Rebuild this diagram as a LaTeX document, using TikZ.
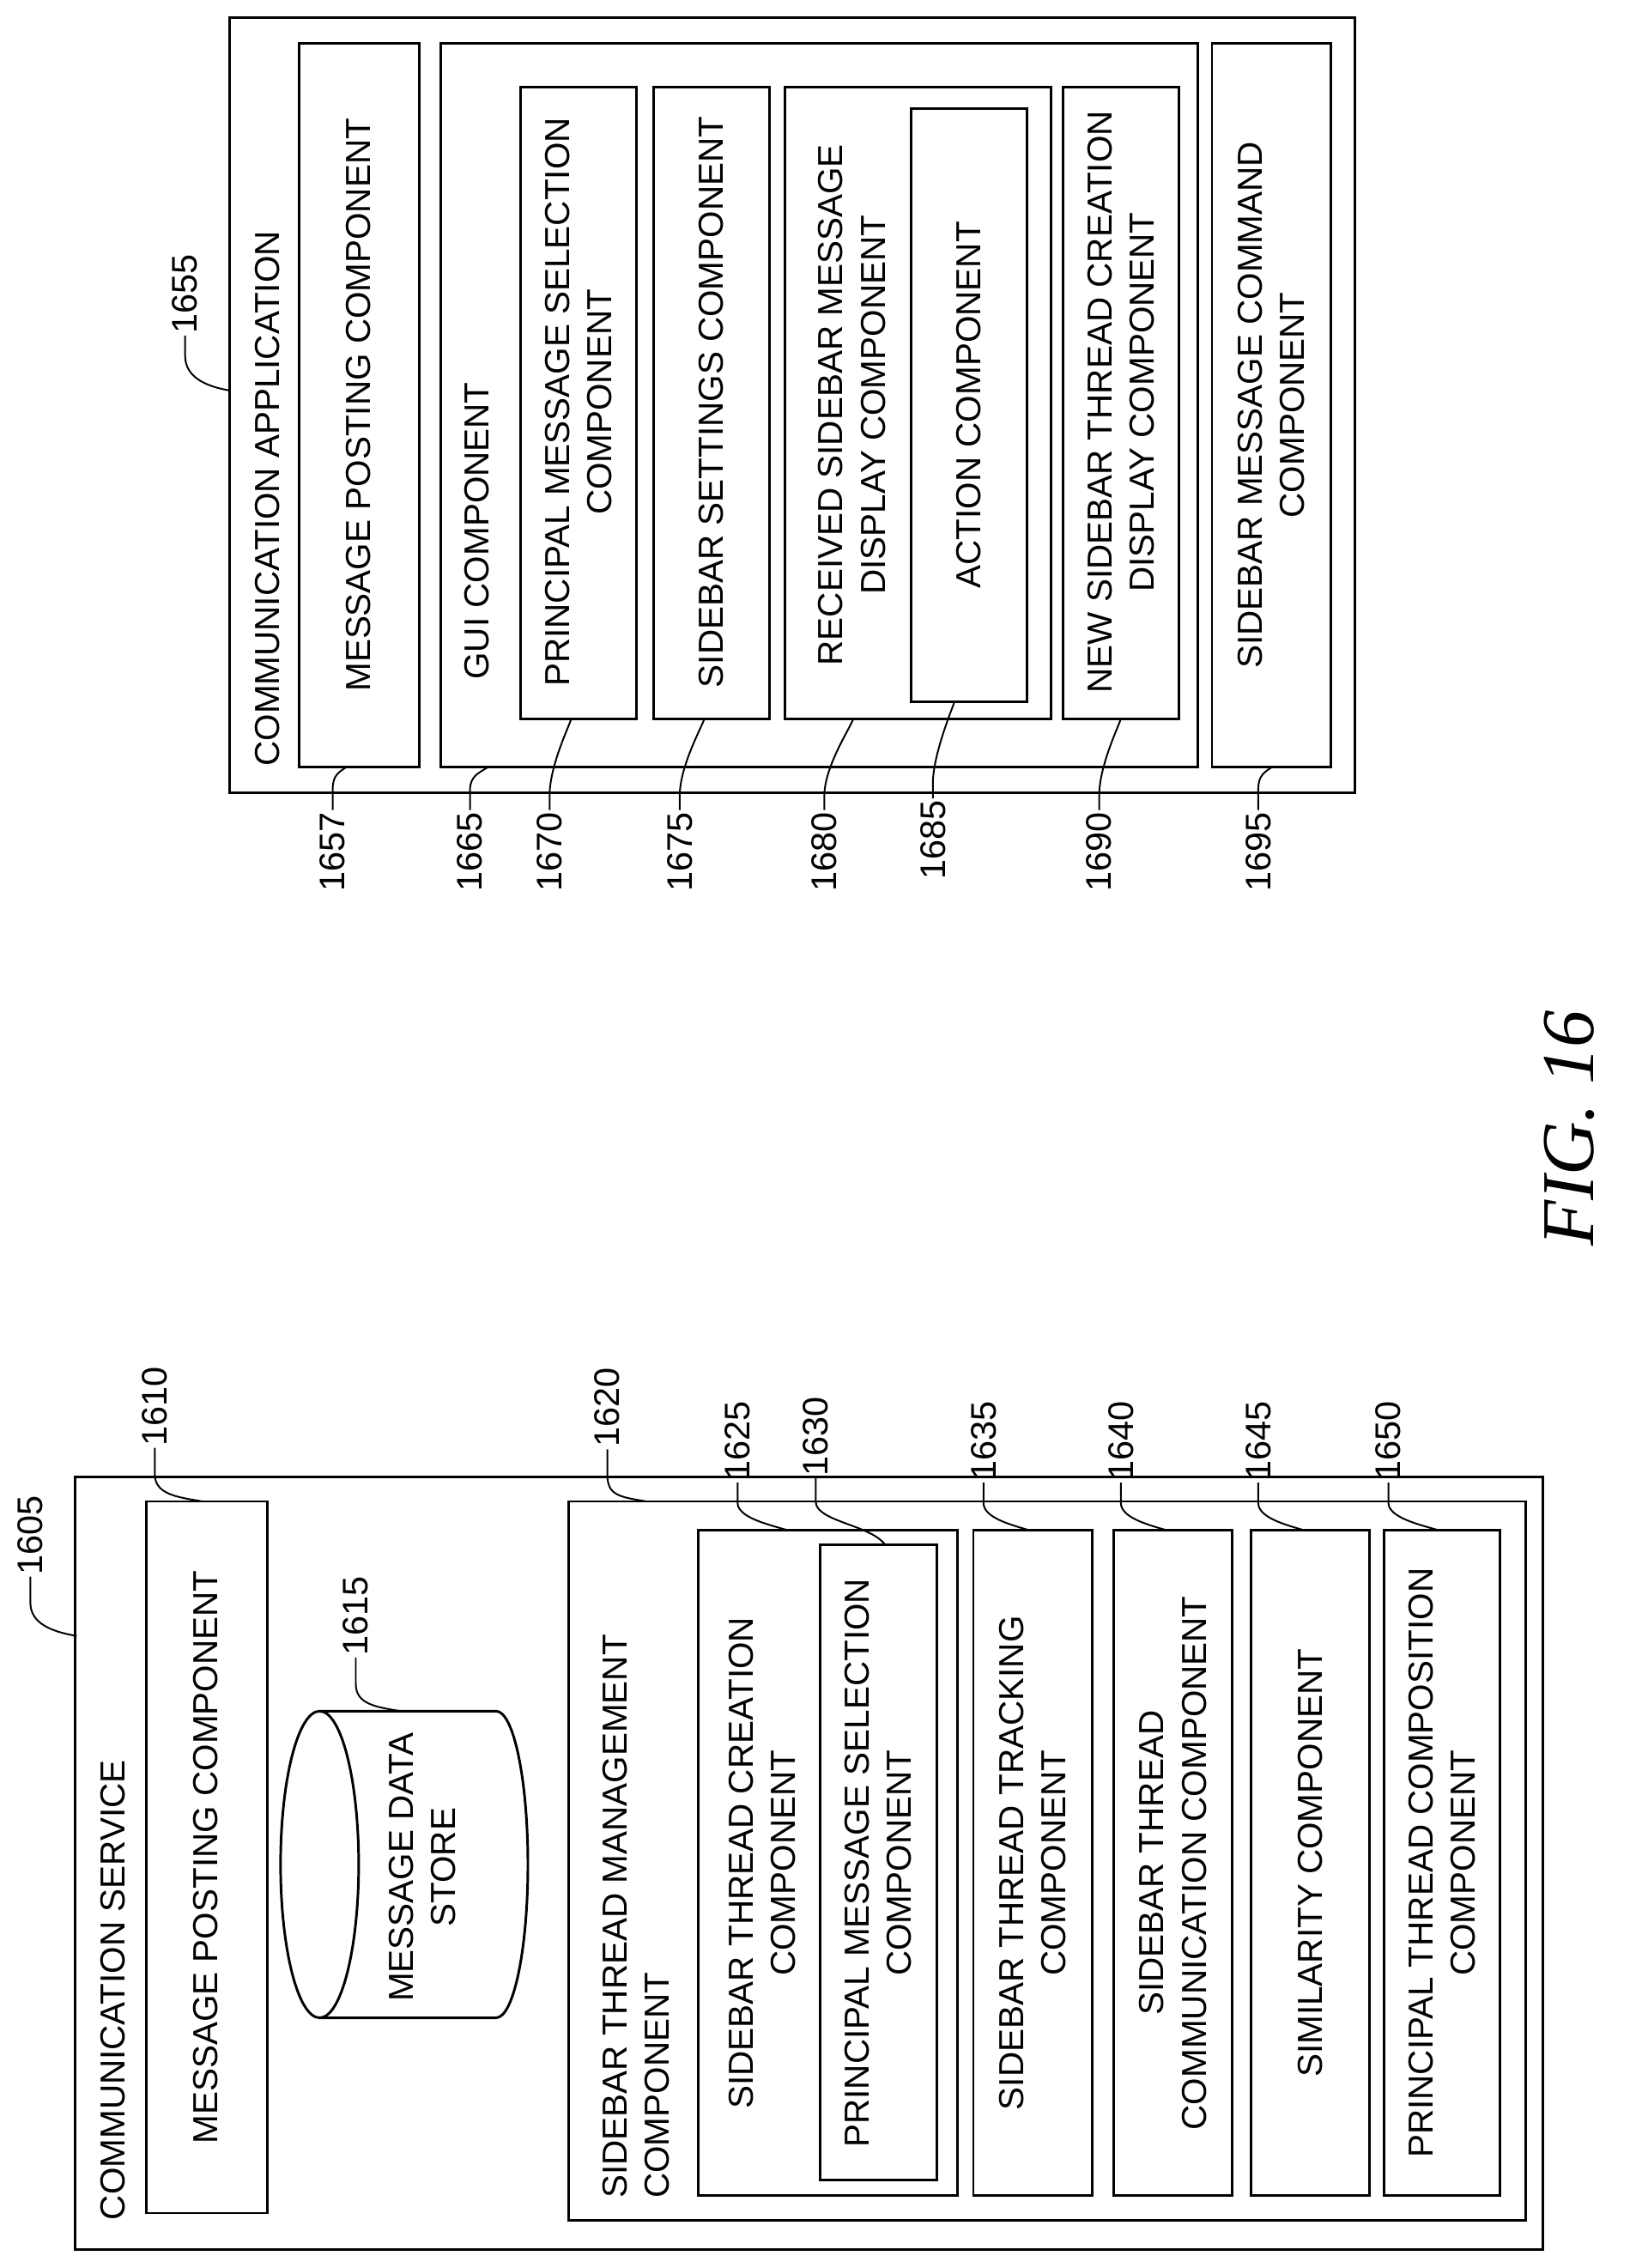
\documentclass[tikz,border=0pt]{standalone}
\usepackage{fontspec}
\setmainfont{Liberation Sans}
\newfontfamily\figfont{Liberation Serif}
\usetikzlibrary{fit,shapes.geometric}
\begin{document}
\begin{tikzpicture}[x=0.03cm,y=-0.03cm,
  boxs/.style={draw,line width=1.5pt,inner sep=0pt},
  txt/.style={rotate=90,font=\fontsize{20.5}{25}\selectfont,align=center,inner sep=0pt},
  lbl/.style={rotate=90,font=\fontsize{21}{23}\selectfont,inner sep=1pt},
  lead/.style={line width=1pt}]
\useasboundingbox (0,0) rectangle (1131,1568);
\newcommand{\mybox}[5]{\path (#2,#3) coordinate (#1-a) (#4,#5) coordinate (#1-b); \node[boxs,fit=(#1-a)(#1-b)] (#1) {};}
% ---------- left: communication service ----------
\mybox{b1605}{52}{1021}{1067}{1555}
\mybox{b1610}{101}{1038}{185}{1530}
\mybox{b1620}{393}{1038}{1055}{1535}
\mybox{b1625}{483}{1058}{662}{1518}
\mybox{b1630}{567}{1068}{648}{1507}
\mybox{b1635}{673}{1058}{755}{1518}
\mybox{b1640}{770}{1058}{852}{1518}
\mybox{b1645}{865}{1058}{947}{1518}
\mybox{b1650}{957}{1058}{1037}{1518}
\node[txt,anchor=west] (t1605) at (78,1535) {COMMUNICATION SERVICE};
\node[txt] at (142,1284) {MESSAGE POSTING COMPONENT};
\node[txt,anchor=west,align=left] (t1620) at (440,1520) {SIDEBAR THREAD MANAGEMENT\\COMPONENT};
\node[txt] at (527,1288) {SIDEBAR THREAD CREATION\\COMPONENT};
\node[txt] at (607,1288) {PRINCIPAL MESSAGE SELECTION\\COMPONENT};
\node[txt] at (714,1288) {SIDEBAR THREAD TRACKING\\COMPONENT};
\node[txt] at (811,1288) {SIDEBAR THREAD\\COMMUNICATION COMPONENT};
\node[txt] at (906,1288) {SIMILARITY COMPONENT};
\node[txt] at (997,1288) {PRINCIPAL THREAD COMPOSITION\\COMPONENT};
% cylinder
\draw[line width=1.5pt] (221,1183) -- (343,1183) arc[start angle=-90,end angle=90,x radius=22,y radius=106] -- (221,1395);
\draw[line width=1.5pt] (221,1289) ellipse [x radius=27,y radius=106];
\node[txt] (cyl) at (292,1291) {MESSAGE DATA\\STORE};
% left labels
\node[lbl,anchor=west] (l1605) at (21,1090) {1605};
\node[lbl,anchor=west] (l1610) at (107,1001) {1610};
\node[lbl,anchor=west] (l1615) at (246,1146) {1615};
\node[lbl,anchor=west] (l1620) at (420,1002) {1620};
\node[lbl,anchor=west] (l1625) at (510,1025) {1625};
\node[lbl,anchor=west] (l1630) at (564,1022) {1630};
\node[lbl,anchor=west] (l1635) at (680,1025) {1635};
\node[lbl,anchor=west] (l1640) at (775,1025) {1640};
\node[lbl,anchor=west] (l1645) at (870,1025) {1645};
\node[lbl,anchor=west] (l1650) at (960,1025) {1650};
\coordinate (e1605) at (53,1131);
\coordinate (e1610) at (140,1038);
\coordinate (e1615) at (277,1183);
\coordinate (e1620) at (447,1038);
\coordinate (e1625) at (545,1058);
\coordinate (e1630) at (612,1068);
\coordinate (e1635) at (712,1058);
\coordinate (e1640) at (807,1058);
\coordinate (e1645) at (902,1058);
\coordinate (e1650) at (995,1058);
\foreach \n in {1605,1610,1615,1620}{
  \draw[lead] (l\n.west) -- ++(0,18) .. controls +(0,14) and +(-18,-3) .. (e\n);}
\foreach \n in {1625,1635,1640,1645,1650}{
  \draw[lead] (l\n.west) -- ++(0,14) .. controls +(0,10) and +(-14,-4) .. (e\n);}
\draw[lead] (l1630.west) -- ++(0,16) .. controls +(0,14) and +(-10,-14) .. (e1630);
% ---------- right: communication application ----------
\mybox{b1655}{159}{12}{937}{548}
\mybox{b1657}{207}{30}{290}{530}
\mybox{b1665}{305}{30}{828}{530}
\mybox{b1670}{360}{60}{440}{497}
\mybox{b1675}{452}{60}{532}{497}
\mybox{b1680}{543}{60}{727}{497}
\mybox{b1685}{630}{75}{710}{485}
\mybox{b1690}{735}{60}{815}{497}
\mybox{b1695}{838}{30}{920}{530}
\node[txt,anchor=west] at (185,530) {COMMUNICATION APPLICATION};
\node[txt] at (248,280) {MESSAGE POSTING COMPONENT};
\node[txt,anchor=west] at (330,470) {GUI COMPONENT};
\node[txt] at (400,278) {PRINCIPAL MESSAGE SELECTION\\COMPONENT};
\node[txt] at (492,278) {SIDEBAR SETTINGS COMPONENT};
\node[txt] at (589,280) {RECEIVED SIDEBAR MESSAGE\\DISPLAY COMPONENT};
\node[txt] at (670,280) {ACTION COMPONENT};
\node[txt] at (775,278) {NEW SIDEBAR THREAD CREATION\\DISPLAY COMPONENT};
\node[txt] at (879,280) {SIDEBAR MESSAGE COMMAND\\COMPONENT};
% right labels
\node[lbl,anchor=west] (l1655) at (128,232) {1655};
\coordinate (e1655) at (159,270);
\draw[lead] (l1655.west) -- ++(0,14) .. controls +(0,14) and +(-18,-3) .. (e1655);
\node[lbl,anchor=east] (l1657) at (230,560) {1657};
\node[lbl,anchor=east] (l1665) at (325,560) {1665};
\node[lbl,anchor=east] (l1670) at (380,560) {1670};
\node[lbl,anchor=east] (l1675) at (470,560) {1675};
\node[lbl,anchor=east] (l1680) at (570,560) {1680};
\node[lbl,anchor=east] (l1685) at (645,552) {1685};
\node[lbl,anchor=east] (l1690) at (760,560) {1690};
\node[lbl,anchor=east] (l1695) at (870,560) {1695};
\coordinate (e1657) at (240,530);
\coordinate (e1665) at (338,530);
\coordinate (e1670) at (395,497);
\coordinate (e1675) at (487,497);
\coordinate (e1680) at (590,497);
\coordinate (e1685) at (660,485);
\coordinate (e1690) at (775,497);
\coordinate (e1695) at (880,530);
\foreach \n in {1657,1665,1695}{
  \draw[lead] (l\n.east) -- ++(0,-14) .. controls +(0,-10) and +(-6,4) .. (e\n);}
\foreach \n in {1670,1675,1680,1685,1690}{
  \draw[lead] (l\n.east) -- ++(0,-10) .. controls +(0,-20) and +(-2,6) .. (e\n);}
% figure title
\node[rotate=90,font=\figfont\itshape\fontsize{44}{50}\selectfont,inner sep=0pt] (fig) at (1085,780) {FIG. 16};
\end{tikzpicture}
\end{document}
